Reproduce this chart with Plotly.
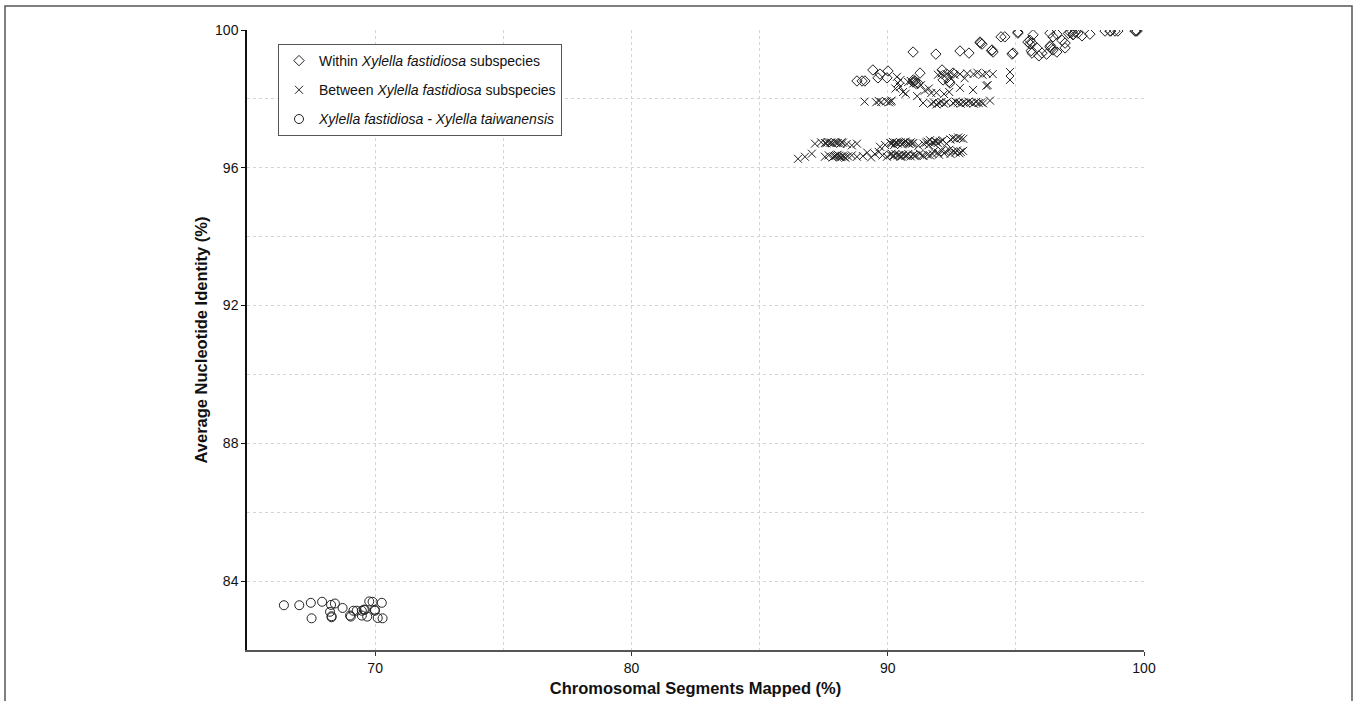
import plotly.graph_objects as go

# ---- Data ----
within_x = [90.99, 91.88, 92.82, 93.17, 93.60, 93.68, 94.07, 94.11, 94.42, 94.57,
            94.89, 95.08, 95.08, 95.47, 95.63, 95.67, 95.63, 95.82, 96.02, 96.33,
            96.45, 96.60, 96.33, 96.45, 96.60, 96.92, 96.92, 97.11, 97.31, 97.23,
            97.42, 97.58, 97.89, 98.48, 98.67, 98.87, 98.98, 99.65, 99.73, 95.55,
            95.55, 96.35, 96.40, 96.80, 97.05, 97.20, 95.60, 94.85, 95.90, 96.20,
            88.80, 89.00, 89.11, 89.42, 89.62, 89.70, 90.01, 89.97, 91.26, 90.99,
            91.06, 91.18, 92.16, 92.43, 92.31, 92.12, 92.55, 91.00, 91.10, 92.40,
            93.62, 94.05, 98.70, 99.68, 97.25]
within_y = [99.36, 99.30, 99.39, 99.33, 99.65, 99.59, 99.42, 99.36, 99.80, 99.80,
            99.33, 99.94, 99.91, 99.65, 99.62, 99.86, 99.33, 99.48, 99.33, 99.91,
            99.80, 99.88, 99.51, 99.42, 99.36, 99.62, 99.48, 99.94, 99.94, 99.86,
            99.91, 99.83, 99.88, 99.97, 99.97, 99.97, 99.97, 99.97, 99.97, 99.70,
            99.60, 99.55, 99.46, 99.70, 99.90, 99.96, 99.40, 99.30, 99.25, 99.30,
            98.52, 98.52, 98.52, 98.84, 98.61, 98.72, 98.81, 98.61, 98.75, 98.49,
            98.52, 98.46, 98.55, 98.46, 98.61, 98.84, 98.75, 98.55, 98.45, 98.50,
            99.62, 99.40, 99.97, 99.97, 99.88]

between_x = [
    # lower band, upper row
    87.16, 87.40, 87.55, 87.65, 87.75, 87.85, 87.95, 88.05, 88.15, 88.25, 88.40, 88.60, 88.80,
    89.70, 89.90, 90.10, 90.20, 90.30, 90.40, 90.50, 90.60, 90.70, 90.80, 90.90, 91.00,
    91.20, 91.40, 91.55, 91.65, 91.75, 91.85, 91.95, 92.05, 92.15, 92.30, 92.45, 92.55,
    92.65, 92.75, 92.85, 92.95, 90.25, 90.55, 90.85, 91.60, 91.90,
    87.60, 87.80, 88.00, 88.20, 90.15, 90.35, 90.65, 90.95, 91.50, 91.80,
    # lower band, lower row
    86.50, 86.77, 87.04, 87.55, 87.70, 87.85, 87.95, 88.05, 88.15, 88.25, 88.35, 88.45,
    88.60, 88.80, 89.03, 89.20, 89.35, 89.50, 89.65, 89.80, 89.97, 90.10, 90.20, 90.30,
    90.40, 90.50, 90.60, 90.70, 90.80, 90.90, 91.00, 91.10, 91.25, 91.40, 91.55, 91.65,
    91.80, 91.95, 92.10, 92.25, 92.40, 92.55, 92.70, 92.85, 92.94, 91.75, 92.00, 92.20,
    92.45, 92.65, 92.80, 88.00, 88.20, 90.15, 90.45,
    87.90, 88.10, 88.30, 90.25, 90.55, 90.75, 91.05, 91.35,
    # upper band, lower row (~97.9)
    89.10, 89.55, 89.65, 89.75, 89.95, 90.05, 90.12, 90.15,
    91.38, 91.70, 91.80, 91.90, 92.00, 92.10, 92.20, 92.30, 92.55, 92.65, 92.75, 92.85,
    92.95, 93.05, 93.15, 93.25, 93.35, 93.45, 93.55, 93.65, 93.72, 93.99,
    # upper band, middle
    91.90, 92.20, 92.40, 92.82, 93.33, 93.85, 93.90, 90.36, 90.50, 90.80, 90.90,
    91.00, 91.30, 91.60, 91.70, 90.60, 90.70, 90.30, 90.48, 90.40, 91.45, 91.15,
    94.77, 94.77, 93.00,
    # upper band, top row (~98.7)
    91.96, 92.10, 92.30, 92.45, 92.60, 92.82, 93.10, 93.35, 93.50, 93.70, 93.85, 94.10,
]
between_y = [
    96.70, 96.74, 96.72, 96.75, 96.73, 96.71, 96.74, 96.72, 96.70, 96.73, 96.69, 96.65, 96.70,
    96.61, 96.66, 96.72, 96.75, 96.73, 96.70, 96.74, 96.72, 96.76, 96.71, 96.74, 96.72,
    96.64, 96.70, 96.76, 96.80, 96.74, 96.78, 96.72, 96.76, 96.80, 96.70, 96.82, 96.86,
    96.84, 96.88, 96.86, 96.84, 96.66, 96.68, 96.69, 96.66, 96.75,
    96.71, 96.73, 96.72, 96.74, 96.70, 96.72, 96.74, 96.70, 96.73, 96.71,
    96.26, 96.32, 96.41, 96.32, 96.36, 96.30, 96.34, 96.38, 96.31, 96.35, 96.29, 96.33,
    96.36, 96.32, 96.34, 96.44, 96.30, 96.40, 96.46, 96.36, 96.32, 96.38, 96.34, 96.40,
    96.36, 96.32, 96.38, 96.35, 96.40, 96.33, 96.38, 96.36, 96.41, 96.34, 96.38, 96.36,
    96.48, 96.44, 96.50, 96.46, 96.52, 96.48, 96.50, 96.46, 96.49, 96.40, 96.38, 96.42,
    96.40, 96.44, 96.42, 96.36, 96.31, 96.41, 96.37,
    96.33, 96.35, 96.32, 96.35, 96.33, 96.36, 96.34, 96.36,
    97.92, 97.90, 97.94, 97.91, 97.93, 97.90, 97.92, 97.95,
    97.88, 97.86, 97.90, 97.84, 97.88, 97.91, 97.86, 97.90, 97.88, 97.92, 97.89, 97.86,
    97.90, 97.88, 97.92, 97.89, 97.86, 97.91, 97.88, 97.90, 97.87, 97.95,
    98.18, 98.14, 98.20, 98.32, 98.26, 98.38, 98.40, 98.64, 98.55, 98.49, 98.52,
    98.45, 98.40, 98.30, 98.17, 98.20, 98.15, 98.30, 98.35, 98.46, 98.24, 98.08,
    98.78, 98.55, 98.60,
    98.70, 98.74, 98.72, 98.76, 98.70, 98.72, 98.74, 98.72, 98.76, 98.70, 98.74, 98.72,
]

taiw_x = [66.44, 67.04, 67.49, 67.93, 68.28, 68.43, 68.73, 68.24, 67.52, 68.30,
          68.30, 69.02, 69.05, 69.15, 69.28, 69.48, 69.56, 69.60, 69.48, 69.69,
          69.77, 69.90, 69.99, 69.99, 70.26, 70.10, 70.29]
taiw_y = [83.30, 83.30, 83.37, 83.40, 83.31, 83.35, 83.22, 83.11, 82.92, 82.98,
          82.95, 83.00, 82.97, 83.14, 83.14, 83.14, 83.17, 83.17, 83.00, 82.97,
          83.41, 83.40, 83.17, 83.14, 83.37, 82.93, 82.92]

names = ["Within <i>Xylella fastidiosa</i> subspecies",
         "Between <i>Xylella fastidiosa</i> subspecies",
         "<i>Xylella fastidiosa - Xylella taiwanensis</i>"]

FONT = "Liberation Sans, Arial, sans-serif"
INK = "#222"

fig = go.Figure()
fig.add_trace(go.Scatter(x=within_x, y=within_y, mode="markers", name=names[0],
                         legendgroup="a",
                         marker=dict(symbol="diamond-open", size=8, color=INK,
                                     line=dict(width=1, color=INK))))
fig.add_trace(go.Scatter(x=between_x, y=between_y, mode="markers", name=names[1],
                         legendgroup="b",
                         marker=dict(symbol="x-thin-open", size=8, color=INK,
                                     line=dict(width=1, color=INK))))
fig.add_trace(go.Scatter(x=taiw_x, y=taiw_y, mode="markers", name=names[2],
                         legendgroup="c",
                         marker=dict(symbol="circle-open", size=9, color=INK,
                                     line=dict(width=1, color=INK))))

L, R, T, B = 247, 1144, 30, 650
W, H = 1357, 701
pw, ph = R - L, B - T

GRID = "#d4d4d4"
fig.update_layout(
    width=W, height=H,
    margin=dict(l=L, r=W - R, t=T, b=H - B, autoexpand=False),
    paper_bgcolor="white", plot_bgcolor="white",
    font=dict(family=FONT, size=14, color="#111"),
    showlegend=True,
    legend=dict(x=(278 - L) / pw, y=(B - 44) / ph, xanchor="left", yanchor="top",
                bordercolor="#555", borderwidth=1, bgcolor="white",
                font=dict(size=14, family=FONT, color="#111"),
                tracegroupgap=8, itemwidth=30),
    xaxis=dict(range=[65, 100], tick0=70, dtick=10, ticks="outside", ticklen=4,
               tickcolor="#333", showline=True, linecolor="#555", linewidth=1.5,
               showgrid=True, gridcolor=GRID, griddash="3px,3px", gridwidth=1,
               minor=dict(dtick=5, tick0=65, showgrid=True, gridcolor=GRID,
                          griddash="3px,3px", ticks=""),
               zeroline=False, mirror=False,
               title=dict(text="<b>Chromosomal Segments Mapped (%)</b>",
                          font=dict(size=16.5, family=FONT, color="#111"), standoff=8),
               tickfont=dict(size=14, family=FONT, color="#111")),
    yaxis=dict(range=[82, 100], tick0=84, dtick=4, ticks="outside", ticklen=4,
               tickcolor="#111", showline=True, linecolor="#111", linewidth=1.5,
               showgrid=True, gridcolor=GRID, griddash="3px,3px", gridwidth=1,
               minor=dict(dtick=2, tick0=82, showgrid=True, gridcolor=GRID,
                          griddash="3px,3px", ticks=""),
               zeroline=False,
               title=dict(text="<b>Average Nucleotide Identity (%)</b>",
                          font=dict(size=16.5, family=FONT, color="#111"), standoff=3),
               tickfont=dict(size=14, family=FONT, color="#111")),
)

# outer frame of the figure panel
fig.add_shape(type="rect", xref="paper", yref="paper",
              x0=(5 - L) / pw, x1=(1352 - L) / pw,
              y0=(B - 720) / ph, y1=(B - 6) / ph,
              line=dict(color="#555", width=1.5), layer="below")

fig.write_html("out.html", config={"displayModeBar": False},
               post_script="document.body.style.margin='0';document.body.style.overflow='hidden';")
